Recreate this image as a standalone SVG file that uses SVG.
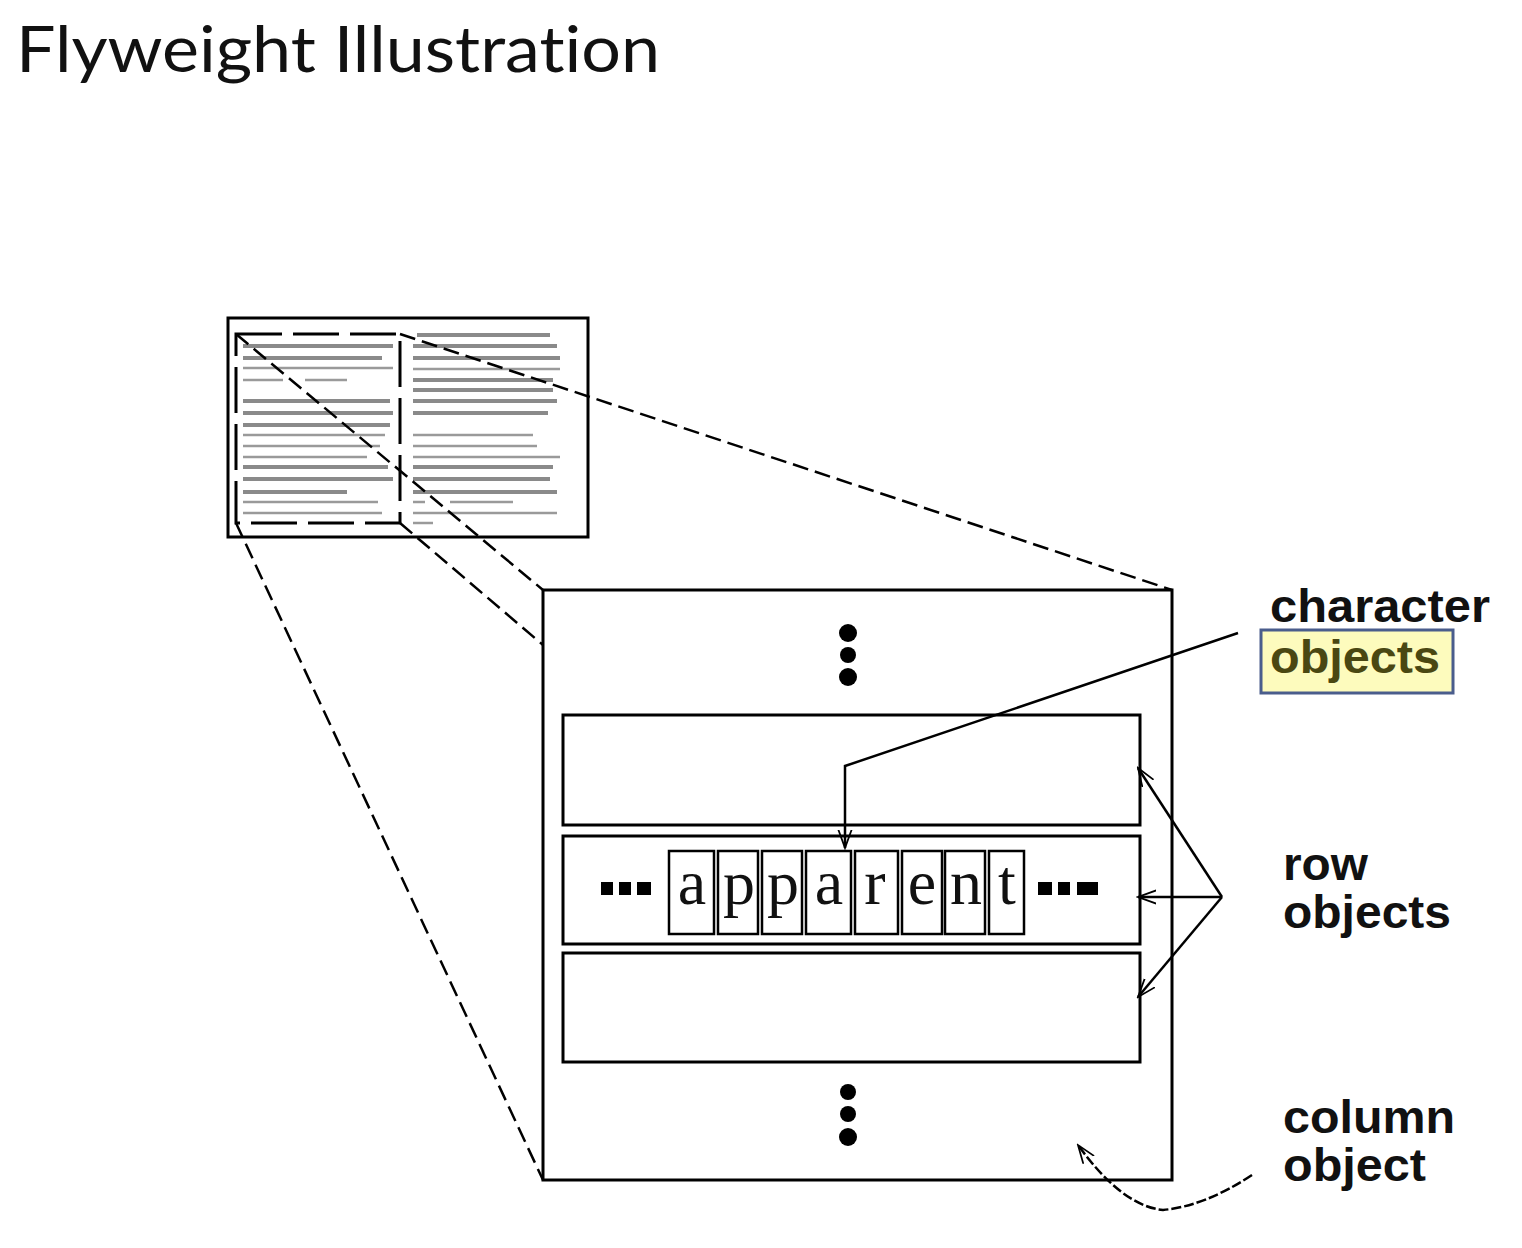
<svg xmlns="http://www.w3.org/2000/svg" width="1522" height="1248" viewBox="0 0 1522 1248">
<style>
.box{fill:#fff;stroke:#000;stroke-width:3}
.dash{fill:none;stroke:#000;stroke-width:3;stroke-dasharray:46 11}
.proj{fill:none;stroke:#000;stroke-width:2.5;stroke-dasharray:16 7}
.g{stroke:#8a8a8a;stroke-width:4}
.gt{stroke:#9a9a9a;stroke-width:2.5}
.ch{fill:#fff;stroke:#000;stroke-width:2.5}
.lt{font-family:"Liberation Serif",serif;font-size:64px;fill:#111;text-anchor:middle}
.lab{font-family:"Liberation Sans",Arial,sans-serif;font-weight:bold;font-size:46px;fill:#111}
.ptr{fill:none;stroke:#000;stroke-width:2.5}
.dot{fill:#000}
</style>
<defs>
<marker id="open" viewBox="0 0 12 12" refX="11" refY="6" markerWidth="20" markerHeight="16" markerUnits="userSpaceOnUse" orient="auto" preserveAspectRatio="none">
<path d="M0,1 L11,6 L0,11" fill="none" stroke="#000" stroke-width="1.3"/>
</marker>
</defs>
<rect width="1522" height="1248" fill="#fff"/>
<g id="title">
<text x="16" y="72" font-family="Lato,'Open Sans',sans-serif" font-size="64" fill="#111" style="font-variant-ligatures:none" textLength="644" lengthAdjust="spacingAndGlyphs">Flyweight Illustration</text>
</g>
<g id="document-thumbnail">
<rect x="228" y="318" width="360" height="219" class="box"/>
<g id="text-lines">
<line x1="243" y1="346" x2="393" y2="346" class="g"/>
<line x1="243" y1="358" x2="382" y2="358" class="g"/>
<line x1="243" y1="368" x2="393" y2="368" class="gt"/>
<line x1="243" y1="380" x2="283" y2="380" class="gt"/>
<line x1="305" y1="380" x2="347" y2="380" class="gt"/>
<line x1="243" y1="401" x2="390" y2="401" class="g"/>
<line x1="243" y1="413" x2="393" y2="413" class="g"/>
<line x1="243" y1="425" x2="390" y2="425" class="g"/>
<line x1="243" y1="435" x2="385" y2="435" class="gt"/>
<line x1="243" y1="446" x2="380" y2="446" class="gt"/>
<line x1="243" y1="457" x2="367" y2="457" class="gt"/>
<line x1="243" y1="467" x2="388" y2="467" class="g"/>
<line x1="243" y1="479" x2="393" y2="479" class="g"/>
<line x1="243" y1="492" x2="347" y2="492" class="g"/>
<line x1="243" y1="502" x2="378" y2="502" class="gt"/>
<line x1="243" y1="513" x2="382" y2="513" class="gt"/>
<line x1="417" y1="335" x2="550" y2="335" class="g"/>
<line x1="413" y1="346" x2="557" y2="346" class="g"/>
<line x1="413" y1="358" x2="560" y2="358" class="g"/>
<line x1="413" y1="369" x2="560" y2="369" class="gt"/>
<line x1="413" y1="380" x2="553" y2="380" class="g"/>
<line x1="413" y1="390" x2="553" y2="390" class="g"/>
<line x1="413" y1="401" x2="557" y2="401" class="g"/>
<line x1="413" y1="413" x2="548" y2="413" class="g"/>
<line x1="413" y1="435" x2="533" y2="435" class="gt"/>
<line x1="413" y1="446" x2="537" y2="446" class="gt"/>
<line x1="413" y1="457" x2="560" y2="457" class="gt"/>
<line x1="413" y1="467" x2="553" y2="467" class="g"/>
<line x1="413" y1="479" x2="550" y2="479" class="g"/>
<line x1="413" y1="492" x2="557" y2="492" class="g"/>
<line x1="413" y1="502" x2="425" y2="502" class="gt"/>
<line x1="450" y1="502" x2="513" y2="502" class="gt"/>
<line x1="413" y1="513" x2="557" y2="513" class="gt"/>
<line x1="413" y1="523" x2="433" y2="523" class="gt"/>
</g>
<rect x="236" y="334" width="164" height="189" class="dash"/>
</g>
<g id="projection-lines">
<line x1="400" y1="334" x2="1172" y2="590" class="proj"/>
<line x1="236" y1="334" x2="543" y2="590" class="proj"/>
<line x1="400" y1="523" x2="543" y2="645" class="proj"/>
<line x1="236" y1="523" x2="543" y2="1180" class="proj"/>
</g>
<g id="column-object">
<rect x="543" y="590" width="629" height="590" class="box"/>
<circle cx="848" cy="633" r="9" class="dot"/>
<circle cx="848" cy="655" r="8" class="dot"/>
<circle cx="848" cy="677" r="9" class="dot"/>
<circle cx="848" cy="1092" r="8" class="dot"/>
<circle cx="848" cy="1114" r="8" class="dot"/>
<circle cx="848" cy="1137" r="9" class="dot"/>
</g>
<g id="row-object-1">
<rect x="563" y="715" width="577" height="110" class="box"/>
</g>
<g id="row-object-2">
<rect x="563" y="836" width="577" height="108" class="box"/>
<rect x="601" y="882" width="12" height="13" class="dot"/>
<rect x="619" y="882" width="12" height="13" class="dot"/>
<rect x="637" y="882" width="14" height="13" class="dot"/>
<rect x="1038" y="882" width="14" height="13" class="dot"/>
<rect x="1058" y="882" width="12" height="13" class="dot"/>
<rect x="1077" y="882" width="21" height="13" class="dot"/>
</g>
<g id="row-object-3">
<rect x="563" y="953" width="577" height="109" class="box"/>
</g>
<g id="character-objects">
<rect x="669" y="851" width="45" height="83" class="ch"/>
<rect x="718" y="851" width="40" height="83" class="ch"/>
<rect x="762" y="851" width="40" height="83" class="ch"/>
<rect x="806" y="851" width="45" height="83" class="ch"/>
<rect x="855" y="851" width="43" height="83" class="ch"/>
<rect x="902" y="851" width="40" height="83" class="ch"/>
<rect x="945" y="851" width="40" height="83" class="ch"/>
<rect x="989" y="851" width="35" height="83" class="ch"/>
<text x="692" y="904" class="lt">a</text>
<text x="739" y="904" class="lt">p</text>
<text x="783" y="904" class="lt">p</text>
<text x="829" y="904" class="lt">a</text>
<text x="875" y="904" class="lt">r</text>
<text x="922" y="904" class="lt">e</text>
<text x="966" y="904" class="lt">n</text>
<text x="1007" y="904" class="lt">t</text>
</g>
<g id="connectors">
<polyline points="1238,633 845,766 845,848" class="ptr" marker-end="url(#open)"/>
<line x1="1222" y1="897" x2="1138" y2="768" class="ptr" marker-end="url(#open)"/>
<line x1="1222" y1="897" x2="1138" y2="897" class="ptr" marker-end="url(#open)"/>
<line x1="1222" y1="897" x2="1138" y2="997" class="ptr" marker-end="url(#open)"/>
<path d="M1252,1175 Q1205,1206 1163,1210 Q1122,1206 1078,1145" class="ptr" stroke-dasharray="10 3" marker-end="url(#open)"/>
</g>
<g id="labels">
<text x="1270" y="622" class="lab" textLength="220" lengthAdjust="spacingAndGlyphs">character</text>
<rect x="1261" y="630" width="192" height="63" fill="#fdfbbd" stroke="#4a5d8c" stroke-width="3"/>
<text x="1270" y="673" class="lab" style="fill:#4a4712" textLength="170" lengthAdjust="spacingAndGlyphs">objects</text>
<text x="1283" y="880" class="lab" textLength="85" lengthAdjust="spacingAndGlyphs">row</text>
<text x="1283" y="928" class="lab" textLength="168" lengthAdjust="spacingAndGlyphs">objects</text>
<text x="1283" y="1133" class="lab" textLength="172" lengthAdjust="spacingAndGlyphs">column</text>
<text x="1283" y="1181" class="lab" textLength="143" lengthAdjust="spacingAndGlyphs">object</text>
</g>
</svg>
